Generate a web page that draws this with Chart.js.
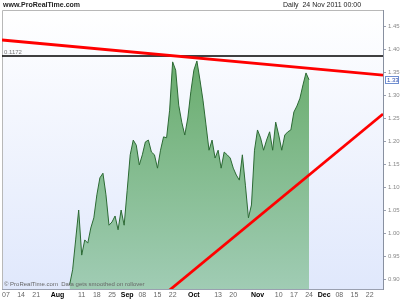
<!DOCTYPE html>
<html>
<head>
<meta charset="utf-8">
<script src="https://cdn.jsdelivr.net/npm/chart.js@4.4.0/dist/chart.umd.min.js"></script>
<style>
  html, body { margin: 0; padding: 0; background: #fff; }
  #wrap { width: 400px; height: 300px; }
</style>
</head>
<body>
<div id="wrap"><canvas id="priceChart" width="400" height="300"></canvas></div>
<script>
// trading-day index 0 = 07 Jul 2011, one step per trading day
var firstDay = 21;
var prices = [
  0.887, 0.920, 0.985, 1.050, 0.952, 0.985, 0.978, 1.011, 1.033, 1.083,
  1.120, 1.130, 1.083, 1.017, 1.024, 1.037, 1.007, 1.050, 1.017, 1.093,
  1.170, 1.202, 1.191, 1.148, 1.170, 1.198, 1.202, 1.176, 1.170, 1.141,
  1.180, 1.209, 1.207, 1.267, 1.372, 1.354, 1.278, 1.241, 1.213, 1.250,
  1.307, 1.354, 1.374, 1.333, 1.289, 1.235, 1.180, 1.202, 1.163, 1.180,
  1.141, 1.176, 1.170, 1.163, 1.141, 1.126, 1.115, 1.170, 1.104, 1.033,
  1.061, 1.180, 1.224, 1.207, 1.180, 1.202, 1.220, 1.180, 1.241, 1.213,
  1.180, 1.213, 1.220, 1.224, 1.263, 1.276, 1.293, 1.322, 1.348, 1.333
];
var xTickPos    = [0, 5, 10, 17, 25, 30, 35, 40, 45, 50, 55, 62, 70, 75, 83, 90, 95, 100, 105, 110, 115, 120];
var xTickLabels = ['07','14','21','Aug','11','18','25','Sep','08','15','22','Oct','13','20','Nov','10','17','24','Dec','08','15','22'];
var monthLabels = ['Aug','Sep','Oct','Nov','Dec'];
var yTicks = [1.45, 1.40, 1.35, 1.30, 1.25, 1.20, 1.15, 1.10, 1.05, 1.00, 0.95, 0.90];
var resistance = [[-1.3, 1.4196], [124.4, 1.3430]];
var support    = [[54.0, 0.8761], [124.4, 1.2587]];
var refLevel = 1.3848;
var refLabel = '0.1172';
var xMin = -1.3, xMax = 124.4, yMin = 0.8783, yMax = 1.4848;

var pricePts = [];
for (var i = 0; i < prices.length; i++) {
  pricePts.push({x: firstDay + i, y: prices[i]});
}
function toPts(arr) {
  return arr.map(function(p){ return {x: p[0], y: p[1]}; });
}

var bgPlugin = {
  id: 'bgPlugin',
  beforeDraw: function(chart) {
    var ctx = chart.ctx, a = chart.chartArea;
    ctx.save();
    ctx.fillStyle = '#fff';
    ctx.fillRect(0, 0, chart.width, chart.height);
    var g = ctx.createLinearGradient(0, a.top, 0, a.bottom);
    g.addColorStop(0, '#ffffff');
    g.addColorStop(1, '#e0e8fc');
    ctx.fillStyle = g;
    ctx.fillRect(a.left, a.top, a.right - a.left, a.bottom - a.top);
    ctx.strokeStyle = '#b8b8b8';
    ctx.lineWidth = 1;
    ctx.beginPath();
    ctx.moveTo(a.left + 0.5, a.bottom);
    ctx.lineTo(a.left + 0.5, a.top + 0.5);
    ctx.lineTo(a.right, a.top + 0.5);
    ctx.stroke();
    ctx.restore();
  },
  afterDraw: function(chart) {
    var ctx = chart.ctx, a = chart.chartArea;
    var ys = chart.scales.y;
    ctx.save();
    ctx.fillStyle = '#222';
    ctx.font = 'bold 7px "Liberation Sans", Arial, sans-serif';
    ctx.textBaseline = 'middle';
    ctx.textAlign = 'left';
    ctx.fillText('www.ProRealTime.com', 3, 5);
    ctx.font = '7px "Liberation Sans", Arial, sans-serif';
    ctx.fillText('Daily  24 Nov 2011 00:00', 283, 5);
    // level label
    ctx.fillStyle = '#777';
    ctx.font = '6px "Liberation Sans", Arial, sans-serif';
    ctx.fillText(refLabel, a.left + 2, ys.getPixelForValue(refLevel) - 4);
    // watermark
    ctx.fillStyle = '#666';
    ctx.fillText('\u00a9 ProRealTime.com  Data gets smoothed on rollover', a.left + 2, a.bottom - 5);
    // last price box
    var last = prices[prices.length - 1];
    var py = Math.round(ys.getPixelForValue(last));
    ctx.fillStyle = '#fff';
    ctx.fillRect(a.right + 2, py - 4, 14, 8);
    ctx.strokeStyle = '#6f8fd0';
    ctx.strokeRect(a.right + 2.5, py - 3.5, 13, 7);
    ctx.fillStyle = '#3050b0';
    ctx.fillText(last.toFixed(2), a.right + 4, py);
    ctx.restore();
  }
};

var ctx = document.getElementById('priceChart').getContext('2d');
var chart = new Chart(ctx, {
  type: 'line',
  data: {
    datasets: [
      {
        label: 'price',
        data: pricePts,
        borderColor: '#2c6a34',
        borderWidth: 1,
        pointRadius: 0,
        tension: 0,
        fill: 'start',
        backgroundColor: function(c) {
          var a = c.chart.chartArea;
          if (!a) return '#80b880';
          var g = c.chart.ctx.createLinearGradient(0, a.top, 0, a.bottom);
          g.addColorStop(0, '#5ea65e');
          g.addColorStop(1, '#a0ccb4');
          return g;
        },
        order: 3
      },
      {
        label: 'level',
        data: [{x: xMin, y: refLevel}, {x: xMax, y: refLevel}],
        borderColor: '#000',
        borderWidth: 1.5,
        pointRadius: 0,
        fill: false,
        order: 2
      },
      {
        label: 'resistance',
        data: toPts(resistance),
        borderColor: '#ff0000',
        borderWidth: 2.8,
        pointRadius: 0,
        fill: false,
        order: 1
      },
      {
        label: 'support',
        data: toPts(support),
        borderColor: '#ff0000',
        borderWidth: 2.8,
        pointRadius: 0,
        fill: false,
        order: 1
      }
    ]
  },
  options: {
    responsive: false,
    animation: false,
    events: [],
    layout: { padding: { top: 10, left: 2, right: 0, bottom: 0 } },
    plugins: { legend: { display: false }, tooltip: { enabled: false } },
    scales: {
      x: {
        type: 'linear',
        min: xMin,
        max: xMax,
        afterBuildTicks: function(scale) {
          scale.ticks = xTickPos.map(function(v){ return {value: v}; });
        },
        afterFit: function(scale) { scale.height = 11; },
        grid: { display: true, drawOnChartArea: false, drawTicks: false },
        border: { display: true, color: '#9aa0b0' },
        ticks: {
          autoSkip: false,
          maxRotation: 0,
          padding: 2,
          callback: function(v, idx) { return xTickLabels[idx]; },
          color: function(c) {
            return monthLabels.indexOf(xTickLabels[c.index]) >= 0 ? '#000' : '#666';
          },
          font: function(c) {
            var m = monthLabels.indexOf(xTickLabels[c.index]) >= 0;
            return { family: '"Liberation Sans", Arial, sans-serif', size: 7, weight: m ? 'bold' : 'normal' };
          }
        }
      },
      y: {
        type: 'linear',
        position: 'right',
        min: yMin,
        max: yMax,
        afterBuildTicks: function(scale) {
          scale.ticks = yTicks.map(function(v){ return {value: v}; });
        },
        afterFit: function(scale) { scale.width = 17; },
        grid: { drawOnChartArea: false, drawTicks: true, tickLength: 3, color: '#9aa0b0' },
        border: { display: true, color: '#8890a0' },
        ticks: {
          padding: 2,
          color: '#888',
          font: { family: '"Liberation Sans", Arial, sans-serif', size: 6 },
          callback: function(v) { return v.toFixed(2); }
        }
      }
    }
  },
  plugins: [bgPlugin]
});
</script>
</body>
</html>
